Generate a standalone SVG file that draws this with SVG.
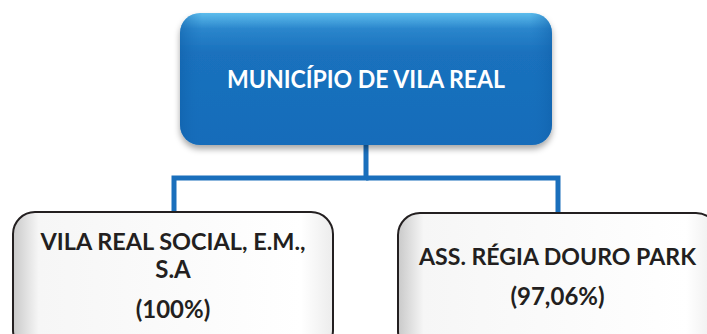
<svg xmlns="http://www.w3.org/2000/svg" width="707" height="334" viewBox="0 0 707 334">
  <defs>
    <linearGradient id="blueV" x1="0" y1="0" x2="0" y2="1">
      <stop offset="0" stop-color="#5cbcec"/>
      <stop offset="0.12" stop-color="#2b86cc"/>
      <stop offset="0.3" stop-color="#1a71bd"/>
      <stop offset="1" stop-color="#166cba"/>
    </linearGradient>
    <linearGradient id="blueH" x1="0" y1="0" x2="1" y2="0">
      <stop offset="0" stop-color="#0f5fa8" stop-opacity="0.5"/>
      <stop offset="0.06" stop-color="#1a71bd" stop-opacity="0"/>
      <stop offset="0.94" stop-color="#1a71bd" stop-opacity="0"/>
      <stop offset="1" stop-color="#0f5fa8" stop-opacity="0.5"/>
    </linearGradient>
    <linearGradient id="whiteH" x1="0" y1="0" x2="1" y2="0">
      <stop offset="0" stop-color="#c9c9c9"/>
      <stop offset="0.08" stop-color="#f6f6f6"/>
      <stop offset="0.9" stop-color="#ffffff"/>
      <stop offset="1" stop-color="#ececec"/>
    </linearGradient>
    <filter id="shadow" x="-10%" y="-10%" width="120%" height="140%">
      <feDropShadow dx="0" dy="4" stdDeviation="3" flood-color="#000" flood-opacity="0.35"/>
    </filter>
  </defs>
  <style>
    .conn { fill: none; stroke: #1a6fbc; stroke-width: 5; stroke-linejoin: miter; }
    .child { stroke: #231f20; stroke-width: 2; fill: url(#whiteH); }
    .t { font-family: Lato, "Open Sans", "Liberation Sans", sans-serif; font-weight: bold; text-anchor: middle; }
    .tw { fill: #ffffff; font-size: 25px; }
    .tk { fill: #231f20; font-size: 23px; }
    .tb { fill: #231f20; font-size: 24px; }
  </style>
  <rect width="707" height="334" fill="#ffffff"/>

  <g id="connectors">
    <path class="conn" d="M366 145 V178 H174 V212"/>
    <path class="conn" d="M366 178 H558 V213"/>
  </g>

  <g id="municipio">
    <rect x="180" y="13" width="372" height="132" rx="20" ry="20" fill="url(#blueV)" filter="url(#shadow)"/>
    <rect x="180" y="13" width="372" height="132" rx="20" ry="20" fill="url(#blueH)"/>
    <text class="t tw" x="366" y="88" textLength="278" lengthAdjust="spacingAndGlyphs">MUNICÍPIO DE VILA REAL</text>
  </g>

  <g id="vila-real-social">
    <rect class="child" x="13" y="212" width="320" height="140" rx="22" ry="22"/>
    <text class="t tk" x="173" y="250" textLength="265" lengthAdjust="spacingAndGlyphs">VILA REAL SOCIAL, E.M.,</text>
    <text class="t tb" x="173" y="278">S.A</text>
    <text class="t tb" x="173" y="318">(100%)</text>
  </g>

  <g id="regia-douro-park">
    <rect class="child" x="398" y="213" width="320" height="140" rx="22" ry="22"/>
    <text class="t tk" x="557.5" y="265" textLength="277" lengthAdjust="spacingAndGlyphs">ASS. RÉGIA DOURO PARK</text>
    <text class="t tb" x="557.5" y="305">(97,06%)</text>
  </g>
</svg>
